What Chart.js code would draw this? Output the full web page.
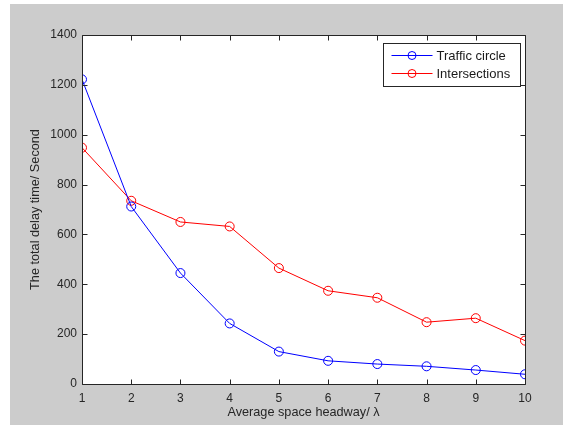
<!DOCTYPE html>
<html><head><meta charset="utf-8">
<script src="https://cdn.jsdelivr.net/npm/chart.js@4/dist/chart.umd.min.js"></script>
<style>
html,body{margin:0;padding:0;background:#fff;width:563px;height:425px;overflow:hidden}
#wrap{position:absolute;left:10px;top:4px;width:553px;height:421px;background:#cccccc}
canvas{display:block}
</style></head><body>
<div id="wrap"><canvas id="c" width="553" height="421"></canvas></div>
<script>
const headway = [1,2,3,4,5,6,7,8,9,10];
const trafficCircle = [1222,712,445,243,130,93,80,71,56,39];
const intersections = [948,735,650,632,465,374,346,248,264,174];
const xTicks = [1,2,3,4,5,6,7,8,9,10];
const yTicks = [0,200,400,600,800,1000,1200,1400];
const seriesNames = ['Traffic circle','Intersections'];
const seriesColors = ['#0000ff','#ff0000'];

const FONT = 'Liberation Sans, Arial, sans-serif';

const boxPlugin = {
  id:'box',
  beforeDraw(chart){
    const {ctx, chartArea:a} = chart;
    ctx.save();
    ctx.fillStyle='#ffffff';
    ctx.fillRect(a.left,a.top,a.right-a.left,a.bottom-a.top);
    ctx.restore();
  },
  afterDatasetsDraw(chart){
    const {ctx, chartArea:a, scales} = chart;
    ctx.save();
    ctx.strokeStyle='#262626';
    ctx.lineWidth=1;
    ctx.beginPath();
    const L=Math.round(a.left)+0.5, R=Math.round(a.right)+0.5, T=Math.round(a.top)+0.5, B=Math.round(a.bottom)+0.5;
    ctx.rect(L,T,R-L,B-T);
    const tl=5;
    xTicks.forEach(v=>{
      const x=Math.round(scales.x.getPixelForValue(v))+0.5;
      ctx.moveTo(x,B); ctx.lineTo(x,B-tl);
      ctx.moveTo(x,T); ctx.lineTo(x,T+tl);
    });
    yTicks.forEach(v=>{
      const y=Math.round(scales.y.getPixelForValue(v))+0.5;
      ctx.moveTo(L,y); ctx.lineTo(L+tl,y);
      ctx.moveTo(R,y); ctx.lineTo(R-tl,y);
    });
    ctx.stroke();
    // legend
    const lx=373.5, ly=39.5, lw=137, lh=43;
    ctx.fillStyle='#ffffff';
    ctx.fillRect(lx,ly,lw,lh);
    ctx.strokeStyle='#262626';
    ctx.strokeRect(lx,ly,lw,lh);
    ctx.font='13px '+FONT;
    ctx.textBaseline='middle';
    chart.data.datasets.forEach((ds,i)=>{
      const yy=ly+12+i*18;
      ctx.strokeStyle=ds.borderColor;
      ctx.beginPath(); ctx.moveTo(lx+8,yy); ctx.lineTo(lx+49,yy); ctx.stroke();
      ctx.beginPath(); ctx.arc(lx+28.5,yy,4,0,Math.PI*2); ctx.stroke();
      ctx.fillStyle='#1a1a1a';
      ctx.fillText(ds.label,lx+53,yy+1);
    });
    ctx.restore();
  }
};

new Chart(document.getElementById('c'),{
  type:'line',
  data:{
    datasets:[
      {label:seriesNames[0],data:headway.map((x,i)=>({x,y:trafficCircle[i]})),borderColor:seriesColors[0],backgroundColor:'rgba(0,0,0,0)',borderWidth:1,pointRadius:4.5,pointBorderWidth:1,pointBackgroundColor:'rgba(0,0,0,0)',pointBorderColor:seriesColors[0],tension:0},
      {label:seriesNames[1],data:headway.map((x,i)=>({x,y:intersections[i]})),borderColor:seriesColors[1],backgroundColor:'rgba(0,0,0,0)',borderWidth:1,pointRadius:4.5,pointBorderWidth:1,pointBackgroundColor:'rgba(0,0,0,0)',pointBorderColor:seriesColors[1],tension:0}
    ]
  },
  options:{
    responsive:false,animation:false,
    layout:{padding:{top:31,right:38,left:18,bottom:0}},
    plugins:{legend:{display:false},tooltip:{enabled:false}},
    scales:{
      x:{type:'linear',min:1,max:10,
        afterBuildTicks(s){s.ticks=xTicks.map(v=>({value:v}));},
        afterFit(s){s.height=41;},
        grid:{display:false,drawTicks:false},border:{display:false},
        ticks:{color:'#262626',font:{family:FONT,size:12},padding:7,maxRotation:0,autoSkip:false,callback:v=>String(v)},
        title:{display:true,text:'Average space headway/ λ',color:'#262626',font:{family:FONT,size:12.7},padding:{top:0,bottom:5}}
      },
      y:{type:'linear',min:0,max:1400,
        afterBuildTicks(s){s.ticks=yTicks.map(v=>({value:v}));},
        afterFit(s){s.width=54;},
        grid:{display:false,drawTicks:false},border:{display:false},
        ticks:{color:'#262626',font:{family:FONT,size:12},padding:5,autoSkip:false,callback:v=>String(v)},
        title:{display:true,text:'The total delay time/ Second',color:'#262626',font:{family:FONT,size:12.7},padding:{top:0,bottom:0}}
      }
    }
  },
  plugins:[boxPlugin]
});
</script>
</body></html>
